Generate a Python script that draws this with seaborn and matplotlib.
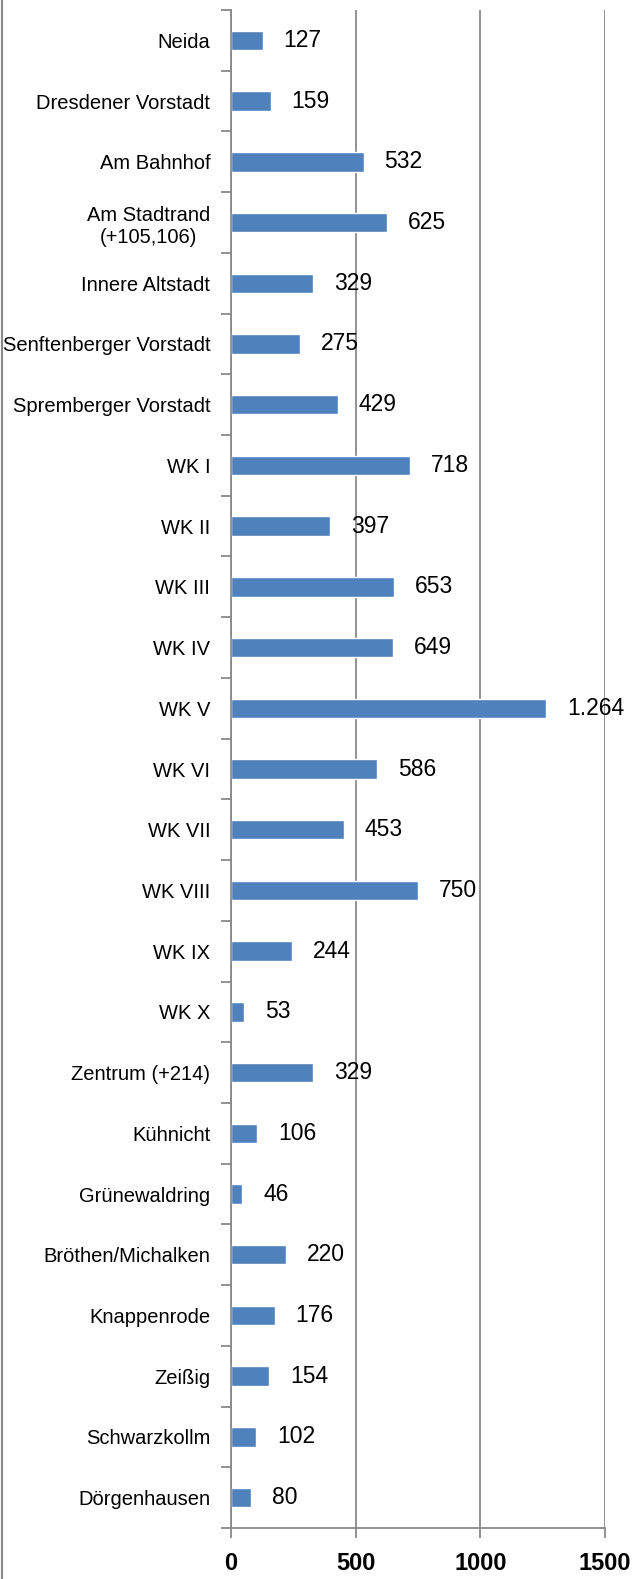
import matplotlib
matplotlib.use("Agg")
import matplotlib.pyplot as plt
from matplotlib import font_manager
from matplotlib.lines import Line2D
import seaborn as sns
import pandas as pd

districts = [
    "Neida", "Dresdener Vorstadt", "Am Bahnhof", "Am Stadtrand\n(+105,106)",
    "Innere Altstadt", "Senftenberger Vorstadt", "Spremberger Vorstadt",
    "WK I", "WK II", "WK III", "WK IV", "WK V", "WK VI", "WK VII", "WK VIII",
    "WK IX", "WK X", "Zentrum (+214)", "Kühnicht", "Grünewaldring",
    "Bröthen/Michalken", "Knappenrode", "Zeißig", "Schwarzkollm", "Dörgenhausen",
]
counts = [127, 159, 532, 625, 329, 275, 429, 718, 397, 653, 649, 1264, 586,
          453, 750, 244, 53, 329, 106, 46, 220, 176, 154, 102, 80]
x_ticks = [0, 500, 1000, 1500]

df = pd.DataFrame({"district": districts, "count": counts})

installed = {f.name for f in font_manager.fontManager.ttflist}
narrow = "Liberation Sans Narrow" in installed
family = "Liberation Sans Narrow" if narrow else "Liberation Sans"
cat_size = 16 if narrow else 14.5

sns.set_theme(style="white")
plt.rcParams["font.family"] = [family, "DejaVu Sans"]
plt.rcParams["text.color"] = "black"
plt.rcParams["xtick.color"] = "black"
plt.rcParams["ytick.color"] = "black"

grey = "#898989"
fig = plt.figure(figsize=(6.33, 15.79), dpi=100)
ax = fig.add_axes([231 / 633, 1 - 1528 / 1579, (605 - 231) / 633, (1528 - 10) / 1579])

sns.barplot(data=df, x="count", y="district", orient="h", color="#4F81BD",
            saturation=1, width=0.32, ax=ax)

for c in ax.containers:
    ax.bar_label(c, labels=[f"{v:,}".replace(",", ".") for v in counts],
                 padding=15, fontsize=16.5, color="black")

ax.set_xlim(0, 1500)
ax.set_ylim(len(districts) - 0.5, -0.5)
ax.set_xticks(x_ticks)
ax.set_xticklabels([str(t) for t in x_ticks], fontsize=17, fontweight="bold")
ax.set_xlabel("")
ax.set_ylabel("")
ax.xaxis.grid(True, color=grey, linewidth=1.3)
ax.set_axisbelow(True)

ax.set_yticks(range(len(districts)))
ax.set_yticklabels(districts, fontsize=cat_size, multialignment="center")
ax.tick_params(axis="y", length=0, pad=15)
# category separators on the y axis
ax.set_yticks([i - 0.5 for i in range(len(districts) + 1)], minor=True)
ax.tick_params(axis="y", which="minor", length=7, width=1.3, color=grey, left=True)
ax.tick_params(axis="x", length=7, width=1.3, color=grey, bottom=True, pad=10)

for side in ["top", "right"]:
    ax.spines[side].set_visible(False)
for side in ["left", "bottom"]:
    ax.spines[side].set_color(grey)
    ax.spines[side].set_linewidth(1.3)

fig.add_artist(Line2D([2 / 633, 2 / 633], [0, 1], transform=fig.transFigure,
                      color=grey, linewidth=1.5))

fig.savefig("out.png", dpi=100)
